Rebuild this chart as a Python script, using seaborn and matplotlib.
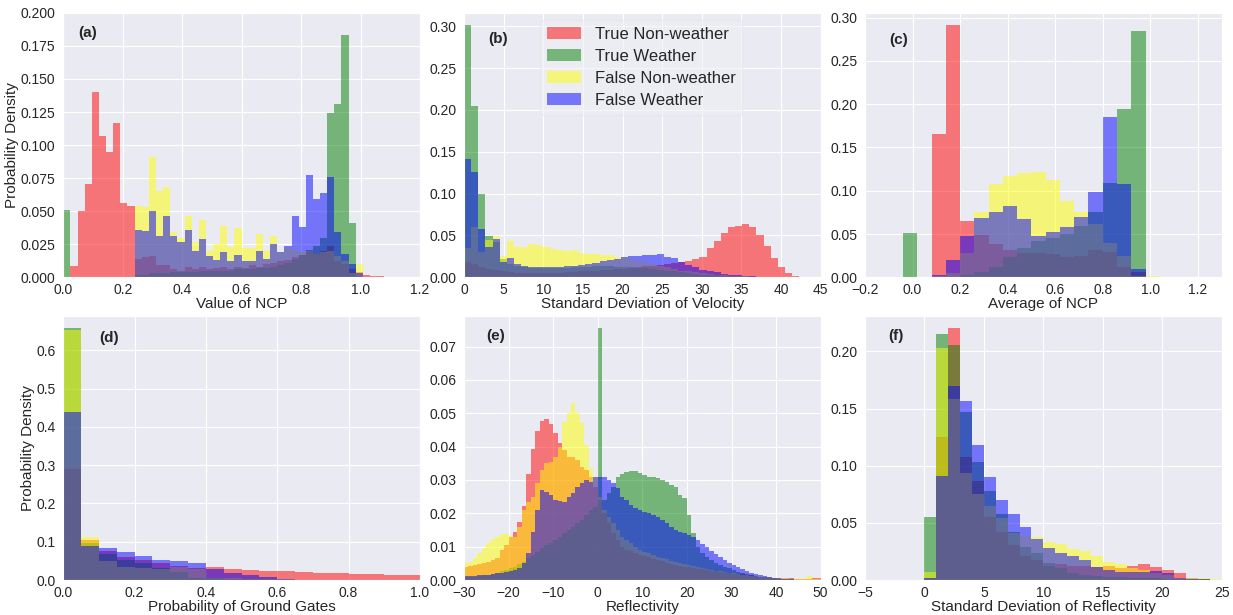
import numpy as np
import pandas as pd
import matplotlib
matplotlib.use("Agg")
import matplotlib.pyplot as plt
import matplotlib.patches as mpatches
import seaborn as sns

sns.set_style("darkgrid")
plt.rcParams["font.family"] = ["Liberation Sans", "DejaVu Sans"]

series_names = ["True Non-weather", "True Weather", "False Non-weather", "False Weather"]
series_colors = ["red", "green", "yellow", "blue"]

# ---------------- (a) Value of NCP ----------------
ncp_edges = np.round(np.arange(0, 1.08 + 1e-9, 0.024), 4)
ncp_true_nonwx = [0, 0.0088, 0.0504, 0.0708, 0.140, 0.107, 0.095, 0.117, 0.056, 0.054,
                  0.014, 0.015, 0.016, 0.009, 0.009, 0.006, 0.005, 0.008, 0.006, 0.008,
                  0.006, 0.007, 0.008, 0.006, 0.008, 0.007, 0.009, 0.008, 0.010, 0.011,
                  0.012, 0.013, 0.015, 0.017, 0.020, 0.018, 0.020, 0.024, 0.012, 0.010,
                  0.006, 0.004, 0.0015, 0.001, 0.001]
ncp_true_wx = [0.051, 0, 0, 0, 0, 0, 0, 0, 0, 0,
               0.002, 0.002, 0.003, 0.003, 0.003, 0.004, 0.004, 0.004, 0.004, 0.005,
               0.005, 0.005, 0.005, 0.005, 0.006, 0.006, 0.006, 0.007, 0.007, 0.008,
               0.009, 0.011, 0.014, 0.017, 0.021, 0.024, 0.030, 0.124, 0.131, 0.183,
               0.041, 0, 0, 0, 0]
ncp_false_nonwx = [0, 0, 0, 0, 0, 0, 0, 0, 0, 0,
                   0.054, 0.053, 0.091, 0.065, 0.068, 0.034, 0.030, 0.046, 0.027, 0.043,
                   0.020, 0.025, 0.039, 0.023, 0.037, 0.022, 0.022, 0.033, 0.020, 0.031,
                   0.019, 0.022, 0.021, 0.019, 0.020, 0.018, 0.019, 0.020, 0.016, 0.012,
                   0.003, 0.010, 0, 0, 0]
ncp_false_wx = [0, 0, 0, 0, 0, 0, 0, 0, 0, 0,
                0.036, 0.035, 0.050, 0.031, 0.046, 0.031, 0.027, 0.036, 0.020, 0.029,
                0.016, 0.013, 0.019, 0.012, 0.017, 0.012, 0.012, 0.020, 0.014, 0.025,
                0.019, 0.024, 0.046, 0.038, 0.077, 0.059, 0.064, 0.076, 0.034, 0.018,
                0.0098, 0.003, 0, 0, 0]

# ---------------- (b) Standard deviation of velocity ----------------
sdv_edges = np.linspace(0, 45, 51)
sdv_true_nonwx = [0.018, 0.016, 0.012, 0.010, 0.009, 0.007, 0.006, 0.0055, 0.005, 0.005,
                  0.005, 0.005, 0.0052, 0.0055, 0.006, 0.0065, 0.007, 0.0075, 0.008, 0.0085,
                  0.009, 0.0095, 0.010, 0.011, 0.012, 0.013, 0.014, 0.015, 0.016, 0.017,
                  0.018, 0.020, 0.0215, 0.024, 0.035, 0.043, 0.053, 0.060, 0.061, 0.064,
                  0.060, 0.050, 0.0375, 0.023, 0.012, 0.0056, 0.0015, 0.0005, 0, 0]
sdv_true_wx = [0.301, 0.205, 0.099, 0.049, 0.042, 0.022, 0.016, 0.013, 0.012, 0.011,
               0.011, 0.011, 0.011, 0.011, 0.0115, 0.012, 0.012, 0.0125, 0.013, 0.013,
               0.013, 0.0128, 0.0125, 0.012, 0.0115, 0.011, 0.010, 0.009, 0.008, 0.007,
               0.006, 0.005, 0.004, 0.0033, 0.0027, 0.0022, 0.0018, 0.0014, 0.001, 0.0008,
               0.0006, 0.0004, 0.0003, 0.0002, 0, 0, 0, 0, 0, 0]
sdv_false_nonwx = [0.035, 0.060, 0.030, 0.045, 0.049, 0.0255, 0.0438, 0.0366, 0.0366, 0.0398,
                   0.0382, 0.0366, 0.0343, 0.0327, 0.0315, 0.0327, 0.0291, 0.0279, 0.0275, 0.0271,
                   0.0263, 0.0247, 0.0239, 0.0223, 0.020, 0.018, 0.016, 0.014, 0.012, 0.010,
                   0.008, 0.007, 0.006, 0.005, 0.004, 0.003, 0.0024, 0.0018, 0.0013, 0.001,
                   0.0007, 0.0005, 0.0003, 0, 0, 0, 0, 0, 0, 0]
sdv_false_wx = [0.141, 0.126, 0.058, 0.036, 0.046, 0.018, 0.0227, 0.016, 0.0136, 0.0128,
                0.012, 0.012, 0.0122, 0.0125, 0.013, 0.0136, 0.0148, 0.016, 0.0176, 0.0192,
                0.0207, 0.0223, 0.0239, 0.0255, 0.0258, 0.0263, 0.027, 0.0279, 0.0245, 0.0227,
                0.018, 0.0148, 0.012, 0.0092, 0.0076, 0.006, 0.0044, 0.0032, 0.0024, 0.0016,
                0.0012, 0.0008, 0.0005, 0.0003, 0, 0, 0, 0, 0, 0]

# ---------------- (c) Average of NCP ----------------
avg_ncp_edges = np.round(-0.04 + 0.06 * np.arange(19), 4)
avg_true_nonwx = [0, 0, 0.165, 0.291, 0.065, 0.049, 0.039, 0.032, 0.028, 0.028,
                  0.027, 0.023, 0.0246, 0.031, 0.0296, 0.0123, 0.0065, 0]
avg_true_wx = [0.051, 0, 0, 0, 0.003, 0.0065, 0.0123, 0.023, 0.0335, 0.042,
               0.045, 0.050, 0.059, 0.0758, 0.109, 0.195, 0.284, 0]
avg_false_nonwx = [0, 0, 0.001, 0.0046, 0.028, 0.075, 0.108, 0.117, 0.121, 0.122,
                   0.112, 0.0885, 0.075, 0.062, 0.040, 0.0246, 0.002, 0.0015]
avg_false_wx = [0, 0, 0.0027, 0.020, 0.048, 0.068, 0.0758, 0.0823, 0.067, 0.048,
                0.052, 0.0577, 0.070, 0.0988, 0.185, 0.108, 0.010, 0]

# ---------------- (d) Probability of ground gates ----------------
pgg_edges = np.linspace(0, 1, 21)
pgg_true_nonwx = [0.29, 0.105, 0.075, 0.059, 0.051, 0.0436, 0.037, 0.031, 0.033, 0.0296,
                  0.026, 0.0244, 0.0227, 0.020, 0.019, 0.0174, 0.0166, 0.0157, 0.014, 0.013]
pgg_true_wx = [0.658, 0.098, 0.068, 0.052, 0.045, 0.031, 0.022, 0.006, 0.004, 0.003,
               0.002, 0.0015, 0.001, 0.0008, 0.0006, 0.0005, 0.0004, 0.0003, 0.0002, 0.0002]
pgg_false_nonwx = [0.652, 0.112, 0.0497, 0.033, 0.0305, 0.030, 0.035, 0.029, 0.006, 0.004,
                   0.003, 0.002, 0.0015, 0.001, 0.001, 0.0008, 0.0006, 0.0005, 0.0004, 0.0003]
pgg_false_wx = [0.44, 0.089, 0.0846, 0.072, 0.062, 0.052, 0.049, 0.0436, 0.028, 0.018,
                0.012, 0.0087, 0.0026, 0, 0, 0, 0, 0, 0, 0]

# ---------------- (e) Reflectivity ----------------
refl_edges = np.arange(-30, 51)
refl_true_nonwx = [0.004, 0.0042, 0.0044, 0.0047, 0.005, 0.0055, 0.006, 0.0065, 0.009, 0.0105,
                   0.013, 0.0145, 0.0175, 0.0222, 0.0318, 0.0393, 0.0448, 0.0478, 0.0482, 0.0468,
                   0.044, 0.041, 0.039, 0.037, 0.037, 0.036, 0.034, 0.033, 0.031, 0.028,
                   0.024, 0.020, 0.017, 0.014, 0.012, 0.010, 0.009, 0.0088, 0.0082, 0.0076,
                   0.0072, 0.0068, 0.0064, 0.006, 0.0056, 0.0052, 0.0049, 0.0046, 0.0043, 0.004,
                   0.0038, 0.0036, 0.0034, 0.0032, 0.003, 0.0028, 0.0026, 0.0024, 0.0022, 0.002,
                   0.0019, 0.0018, 0.0017, 0.0016, 0.0014, 0.0012, 0.001, 0.0009, 0.0008, 0.0007,
                   0.0006, 0.0006, 0.0005, 0.0005, 0.0004, 0.0004, 0.0004, 0.0004, 0.0005, 0.0005]
refl_true_wx = [0.0008, 0.0009, 0.001, 0.0012, 0.0014, 0.0016, 0.0019, 0.0022, 0.0026, 0.003,
                0.0035, 0.004, 0.0048, 0.0055, 0.0065, 0.0075, 0.0085, 0.0095, 0.0105, 0.011,
                0.012, 0.013, 0.014, 0.015, 0.016, 0.017, 0.018, 0.0195, 0.021, 0.022,
                0.0755, 0.024, 0.026, 0.028, 0.031, 0.0318, 0.0325, 0.0328, 0.0328, 0.032,
                0.0315, 0.031, 0.0308, 0.0305, 0.030, 0.0295, 0.0285, 0.0278, 0.0255, 0.0245,
                0.0195, 0.014, 0.010, 0.008, 0.007, 0.006, 0.005, 0.0045, 0.004, 0.0035,
                0.003, 0.0025, 0.002, 0.0018, 0.0015, 0.0012, 0.001, 0.0008, 0.0006, 0.0005,
                0.0004, 0.0003, 0.0002, 0.0002, 0.0001, 0, 0, 0, 0, 0]
refl_false_nonwx = [0.005, 0.0055, 0.0065, 0.008, 0.0095, 0.011, 0.0122, 0.013, 0.0137, 0.0138,
                    0.0132, 0.013, 0.016, 0.021, 0.0235, 0.025, 0.029, 0.033, 0.035, 0.0355,
                    0.0368, 0.040, 0.0475, 0.050, 0.0532, 0.050, 0.047, 0.0405, 0.0332, 0.031,
                    0.025, 0.021, 0.019, 0.017, 0.015, 0.013, 0.012, 0.011, 0.010, 0.009,
                    0.0085, 0.008, 0.0075, 0.007, 0.0066, 0.0062, 0.0058, 0.0054, 0.005, 0.0047,
                    0.0044, 0.0041, 0.0038, 0.0035, 0.0032, 0.003, 0.0028, 0.0026, 0.0024, 0.0022,
                    0.002, 0.0018, 0.0016, 0.0014, 0.0013, 0.0012, 0.001, 0.0009, 0.0008, 0.0007,
                    0.0006, 0.0005, 0.0005, 0.0004, 0.0004, 0.0003, 0.0003, 0.0012, 0.0004, 0.0003]
refl_false_wx = [0.0012, 0.0012, 0.0013, 0.0014, 0.0015, 0.0016, 0.0018, 0.002, 0.0022, 0.0025,
                 0.0028, 0.003, 0.0035, 0.0052, 0.008, 0.0145, 0.021, 0.027, 0.0265, 0.0255,
                 0.024, 0.0238, 0.0235, 0.025, 0.026, 0.0278, 0.029, 0.030, 0.0295, 0.031,
                 0.031, 0.031, 0.030, 0.029, 0.0275, 0.025, 0.024, 0.0225, 0.0215, 0.021,
                 0.0205, 0.020, 0.0195, 0.019, 0.018, 0.017, 0.016, 0.015, 0.0145, 0.014,
                 0.0135, 0.013, 0.012, 0.0108, 0.0098, 0.0088, 0.0078, 0.0068, 0.006, 0.0052,
                 0.0045, 0.0038, 0.0032, 0.0027, 0.0022, 0.0018, 0.0014, 0.0011, 0.0009, 0.0007,
                 0.0005, 0.0004, 0.0003, 0.0002, 0.0001, 0, 0, 0, 0, 0]

# ---------------- (f) Standard deviation of reflectivity ----------------
sdz_edges = np.arange(0, 26)
sdz_true_nonwx = [0.002, 0.1255, 0.2204, 0.1074, 0.0867, 0.0555, 0.0423, 0.0307, 0.0213, 0.0175,
                  0.0123, 0.014, 0.0123, 0.0123, 0.011, 0.0126, 0.0102, 0.0123, 0.0137, 0.0117,
                  0.0088, 0.0058, 0.0015, 0.0008, 0.0004]
sdz_true_wx = [0.0549, 0.2155, 0.2058, 0.1474, 0.103, 0.078, 0.0575, 0.0423, 0.0292, 0.0234,
               0.0146, 0.0102, 0.0058, 0.0044, 0.0035, 0.003, 0.0023, 0.002, 0.0018, 0.0015,
               0.0012, 0.001, 0.0008, 0.0006, 0.0004]
sdz_false_nonwx = [0.0073, 0.203, 0.1587, 0.094, 0.075, 0.0648, 0.054, 0.041, 0.0385, 0.038,
                   0.0336, 0.0312, 0.0274, 0.0257, 0.021, 0.016, 0.014, 0.0108, 0.0088, 0.0064,
                   0.0047, 0.002, 0.002, 0.0018, 0.0009]
sdz_false_wx = [0.002, 0.0914, 0.170, 0.157, 0.118, 0.0905, 0.070, 0.0578, 0.0461, 0.0356,
                0.0277, 0.0234, 0.021, 0.0175, 0.0117, 0.0088, 0.0073, 0.0073, 0.0067, 0.0082,
                0.0058, 0.0015, 0.0008, 0.0005, 0.0003]

panels = [
    dict(tag="(a)", edges=ncp_edges,
         series=[ncp_true_nonwx, ncp_true_wx, ncp_false_nonwx, ncp_false_wx],
         xlabel="Value of NCP", xlim=(0, 1.2), ylim=(0, 0.2),
         xticks=np.arange(0, 1.21, 0.2), yticks=np.arange(0, 0.201, 0.025),
         tag_xy=(0.042, 0.924), ylabel=True),
    dict(tag="(b)", edges=sdv_edges,
         series=[sdv_true_nonwx, sdv_true_wx, sdv_false_nonwx, sdv_false_wx],
         xlabel="Standard Deviation of Velocity", xlim=(0, 45), ylim=(0, 0.316),
         xticks=np.arange(0, 46, 5), yticks=np.arange(0, 0.31, 0.05),
         tag_xy=(0.067, 0.903), ylabel=False),
    dict(tag="(c)", edges=avg_ncp_edges,
         series=[avg_true_nonwx, avg_true_wx, avg_false_nonwx, avg_false_wx],
         xlabel="Average of NCP", xlim=(-0.2, 1.3), ylim=(0, 0.3055),
         xticks=np.arange(-0.2, 1.21, 0.2), yticks=np.arange(0, 0.31, 0.05),
         tag_xy=(0.067, 0.899), ylabel=False),
    dict(tag="(d)", edges=pgg_edges,
         series=[pgg_true_nonwx, pgg_true_wx, pgg_false_nonwx, pgg_false_wx],
         xlabel="Probability of Ground Gates", xlim=(0, 1.0), ylim=(0, 0.691),
         xticks=np.arange(0, 1.01, 0.2), yticks=np.arange(0, 0.61, 0.1),
         tag_xy=(0.10, 0.915), ylabel=True),
    dict(tag="(e)", edges=refl_edges,
         series=[refl_true_nonwx, refl_true_wx, refl_false_nonwx, refl_false_wx],
         xlabel="Reflectivity", xlim=(-30, 50), ylim=(0, 0.0793),
         xticks=np.arange(-30, 51, 10), yticks=np.arange(0, 0.071, 0.01),
         tag_xy=(0.062, 0.924), ylabel=False),
    dict(tag="(f)", edges=sdz_edges,
         series=[sdz_true_nonwx, sdz_true_wx, sdz_false_nonwx, sdz_false_wx],
         xlabel="Standard Deviation of Reflectivity", xlim=(-5, 25), ylim=(0, 0.2314),
         xticks=np.arange(-5, 26, 5), yticks=np.arange(0, 0.21, 0.05),
         tag_xy=(0.064, 0.924), ylabel=False),
]

fig = plt.figure(figsize=(12.33, 6.15), dpi=100)
col_left = [0.0513, 0.3763, 0.7015]
row_bottom = [0.5491, 0.0569]
ax_w, ax_h = 0.2893, 0.4300

axes = []
for k, p in enumerate(panels):
    ax = fig.add_axes([col_left[k % 3], row_bottom[k // 3], ax_w, ax_h])
    axes.append(ax)
    edges = [float(e) for e in p["edges"]]
    centers = [0.5 * (lo + hi) for lo, hi in zip(edges[:-1], edges[1:])]
    for vals, color in zip(p["series"], series_colors):
        frame = pd.DataFrame({"value": centers, "density": np.asarray(vals, dtype=float)})
        sns.histplot(data=frame, x="value", weights="density", bins=edges, stat="count",
                     color=color, alpha=0.5, linewidth=0, ax=ax)
    ax.set_xlim(*p["xlim"])
    ax.set_ylim(*p["ylim"])
    ax.set_xticks(p["xticks"])
    ax.set_yticks(p["yticks"])
    ax.tick_params(axis="x", labelsize=10, pad=0.5, colors="#262626")
    ax.tick_params(axis="y", labelsize=10, pad=2, colors="#262626")
    ax.set_xlabel(p["xlabel"], fontsize=11, labelpad=0, color="#262626")
    ax.set_ylabel("Probability Density" if p["ylabel"] else "", fontsize=11,
                  labelpad=1, color="#262626")
    ax.text(p["tag_xy"][0], p["tag_xy"][1], p["tag"], transform=ax.transAxes,
            fontsize=11, fontweight="bold", ha="left", va="center", color="#262626")

handles = [mpatches.Patch(facecolor=c, alpha=0.5, edgecolor="none") for c in series_colors]
leg = axes[1].legend(handles, series_names, loc="upper left", bbox_to_anchor=(0.213, 0.972),
                     borderaxespad=0, fontsize=12, frameon=True, handlelength=2.05,
                     handleheight=0.66, handletextpad=0.85, labelspacing=0.42, borderpad=0.4,
                     framealpha=0.5)
leg.get_frame().set_facecolor("#EEEEF4")
leg.get_frame().set_edgecolor("#E4E4EC")
for t in leg.get_texts():
    t.set_color("#262626")

fig.savefig("out.png", dpi=100)
